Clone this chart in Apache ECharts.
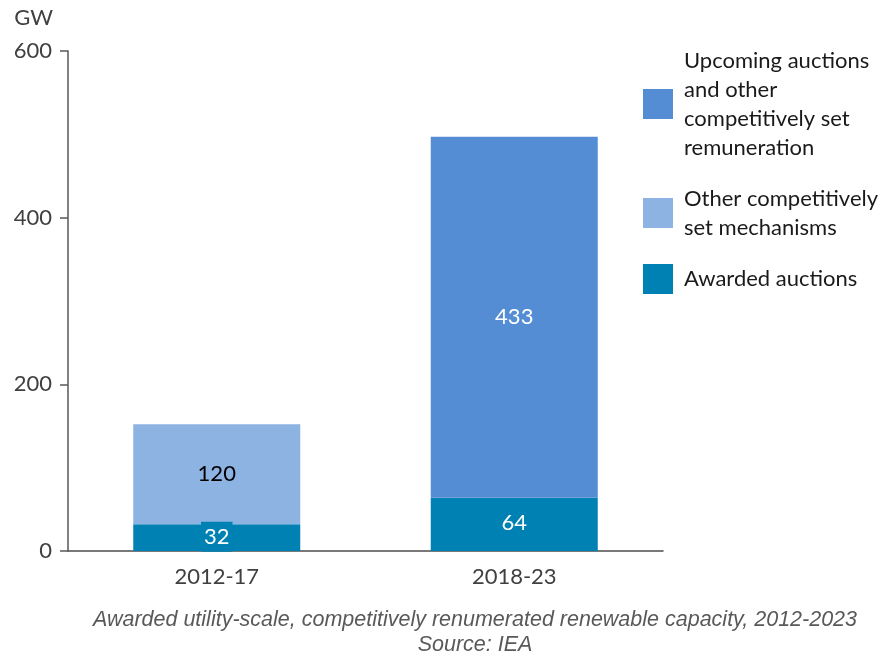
<!DOCTYPE html>
<html>
<head>
<meta charset="utf-8">
<script src="https://cdn.jsdelivr.net/npm/echarts@6/dist/echarts.min.js"></script>
<style>
  html, body { margin: 0; padding: 0; background: #fff; }
  #chart { width: 881px; height: 656px; }
</style>
</head>
<body>
<div id="chart"></div>
<script>
// Competitively set renewable capacity, GW
const categories = ['2012-17', '2018-23'];
const awardedAuctions = [32, 64];
const otherMechanisms = [120, '-'];
const upcomingAuctions = ['-', 433];
const yTicks = [0, 200, 400, 600];

const nameAwarded = 'Awarded auctions';
const nameOther = 'Other competitively\nset mechanisms';
const nameUpcoming = 'Upcoming auctions\nand other\ncompetitively set\nremuneration';

const FONT = 'Lato';
const FS = 22;
const colAwarded = '#0081B3';
const colOther = '#8DB3E2';
const colUpcoming = '#548DD4';

const chart = echarts.init(document.getElementById('chart'), null, { renderer: 'canvas' });

chart.setOption({
  animation: false,
  backgroundColor: '#ffffff',
  textStyle: { fontFamily: FONT },
  grid: { left: 68, right: 218, top: 51, bottom: 105, containLabel: false },
  title: {
    text: 'Awarded utility-scale, competitively renumerated renewable capacity, 2012-2023\nSource: IEA',
    left: 475,
    top: 608,
    padding: 0,
    textAlign: 'center',
    textStyle: {
      fontFamily: 'Liberation Sans',
      fontStyle: 'italic',
      fontWeight: 'normal',
      fontSize: 21.5,
      lineHeight: 25,
      color: '#595959'
    }
  },
  legend: {
    orient: 'vertical',
    left: 643,
    top: 46,
    padding: 0,
    itemWidth: 30,
    itemHeight: 30,
    itemGap: 22,
    icon: 'rect',
    selectedMode: false,
    data: [nameUpcoming, nameOther, nameAwarded],
    textStyle: {
      fontFamily: FONT,
      fontSize: FS,
      lineHeight: 29,
      color: '#1a1a1a',
      padding: [0, 0, 0, 6]
    }
  },
  xAxis: {
    type: 'category',
    data: categories,
    axisLine: { lineStyle: { color: '#4d4d4d', width: 1.5 } },
    axisTick: { show: false },
    axisLabel: { fontFamily: FONT, fontSize: FS, lineHeight: 22, color: '#404040', margin: 15 }
  },
  yAxis: {
    type: 'value',
    min: 0,
    max: 600,
    interval: 200,
    name: 'GW',
    nameLocation: 'end',
    nameGap: 22,
    nameTextStyle: { fontFamily: FONT, fontSize: FS, lineHeight: 22, color: '#404040', align: 'right', padding: [0, 15, 0, 0] },
    axisLine: { show: true, lineStyle: { color: '#595959', width: 1.5 } },
    axisTick: { show: true, length: 8, lineStyle: { color: '#595959', width: 1.5 } },
    axisLabel: {
      fontFamily: FONT, fontSize: FS, color: '#404040', margin: 16,
      formatter: v => (yTicks.includes(v) ? String(v) : '')
    },
    splitLine: { show: false }
  },
  series: [
    {
      name: nameAwarded,
      type: 'bar',
      stack: 'total',
      barWidth: 167,
      data: awardedAuctions,
      itemStyle: { color: colAwarded },
      label: {
        show: true,
        position: 'inside',
        fontFamily: FONT,
        fontSize: FS,
        lineHeight: 22,
        color: '#ffffff',
        backgroundColor: colAwarded,
        padding: [5, 3, 3, 3],
        offset: [0, -1]
      }
    },
    {
      name: nameOther,
      type: 'bar',
      stack: 'total',
      barWidth: 167,
      data: otherMechanisms,
      itemStyle: { color: colOther },
      label: { show: true, position: 'inside', fontFamily: FONT, fontSize: FS, color: '#000000' }
    },
    {
      name: nameUpcoming,
      type: 'bar',
      stack: 'total',
      barWidth: 167,
      data: upcomingAuctions,
      itemStyle: { color: colUpcoming },
      label: { show: true, position: 'inside', fontFamily: FONT, fontSize: FS, color: '#ffffff' }
    }
  ]
});
</script>
</body>
</html>
